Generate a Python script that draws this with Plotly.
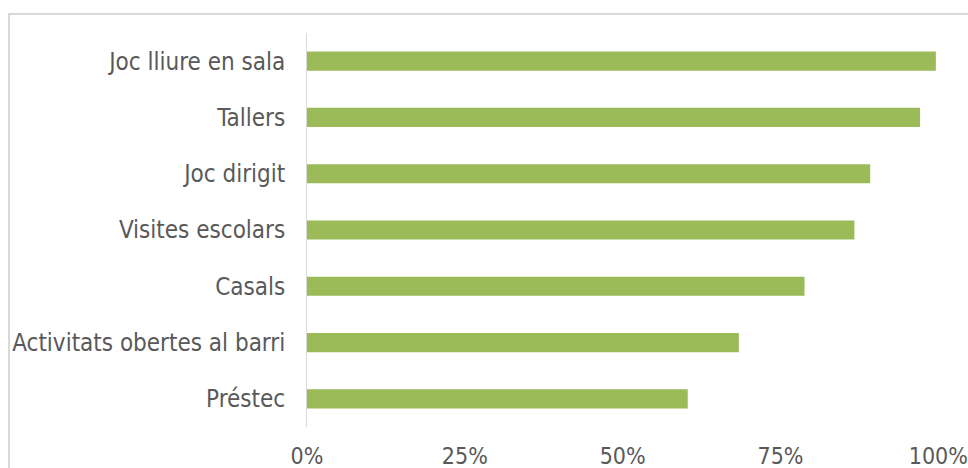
import plotly.graph_objects as go

# Share of facilities offering each activity
activities = [
    "Préstec",
    "Activitats obertes al barri",
    "Casals",
    "Visites escolars",
    "Joc dirigit",
    "Tallers",
    "Joc lliure en sala",
]
shares = [0.603, 0.684, 0.788, 0.867, 0.892, 0.971, 0.996]

x_ticks = [0, 0.25, 0.5, 0.75, 1.0]
x_tick_labels = ["0%", "25%", "50%", "75%", "100%"]

BAR_GREEN = "#9BBB59"
TEXT_GREY = "#595959"
LINE_GREY = "#D9D9D9"
NARROW = "DejaVu Sans Condensed, Liberation Sans Narrow, sans-serif"

fig = go.Figure(
    go.Bar(
        x=shares,
        y=activities,
        orientation="h",
        marker=dict(color=BAR_GREEN, line=dict(width=0)),
        hoverinfo="skip",
    )
)

fig.update_layout(
    width=968,
    height=468,
    margin=dict(l=307, r=29, t=33, b=41, autoexpand=False),
    paper_bgcolor="white",
    plot_bgcolor="white",
    bargap=0.66,
    showlegend=False,
    font=dict(family=NARROW, size=23, color=TEXT_GREY),
    shapes=[
        # outer chart frame
        dict(
            type="rect",
            xref="paper",
            yref="paper",
            x0=-0.4715,
            x1=1.06,
            y0=-0.13,
            y1=1.048,
            line=dict(color=LINE_GREY, width=2),
            fillcolor="rgba(0,0,0,0)",
            layer="below",
        )
    ],
)

fig.update_xaxes(
    range=[0, 1.001],
    tickvals=x_ticks,
    ticktext=x_tick_labels,
    showgrid=False,
    zeroline=False,
    showline=False,
    ticks="",
    automargin=False,
    ticklabeloverflow="allow",
    ticklabelstandoff=13,
    tickfont=dict(family=NARROW, size=23, color=TEXT_GREY),
    fixedrange=True,
)

fig.update_yaxes(
    categoryorder="array",
    categoryarray=activities,
    showgrid=False,
    zeroline=False,
    showline=True,
    linecolor=LINE_GREY,
    linewidth=1,
    ticks="",
    automargin=False,
    ticklabelstandoff=16,
    tickfont=dict(family=NARROW, size=24, color=TEXT_GREY),
    fixedrange=True,
)

fig.write_html("out.html", config={"displayModeBar": False})
